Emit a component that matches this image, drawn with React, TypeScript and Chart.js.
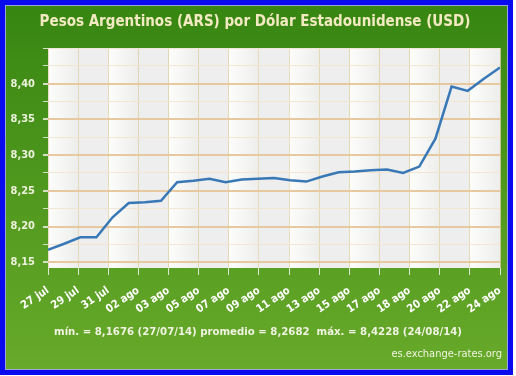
import React, { useEffect, useRef } from 'react';
import { Chart, registerables } from 'chart.js';

Chart.register(...registerables);

const chartTitle = 'Pesos Argentinos (ARS) por Dólar Estadounidense (USD)';
const statsText = 'mín. = 8,1676 (27/07/14) promedio = 8,2682  máx. = 8,4228 (24/08/14)';
const sourceText = 'es.exchange-rates.org';

const xTickLabels = ['27 jul', '29 jul', '31 jul', '02 ago', '03 ago', '05 ago', '07 ago', '09 ago', '11 ago', '13 ago', '15 ago', '17 ago', '18 ago', '20 ago', '22 ago', '24 ago'];

const dates = ['27/07/14', '28/07/14', '29/07/14', '30/07/14', '31/07/14', '01/08/14', '02/08/14', '03/08/14', '04/08/14', '05/08/14', '06/08/14', '07/08/14', '08/08/14', '09/08/14', '10/08/14', '11/08/14', '12/08/14', '13/08/14', '14/08/14', '15/08/14', '16/08/14', '17/08/14', '18/08/14', '19/08/14', '20/08/14', '21/08/14', '22/08/14', '23/08/14', '24/08/14'];

const rates = [8.1676, 8.176, 8.185, 8.185, 8.213, 8.233, 8.234, 8.236, 8.262, 8.264, 8.267, 8.262, 8.266, 8.267, 8.268, 8.265, 8.263, 8.270, 8.276, 8.277, 8.279, 8.280, 8.275, 8.284, 8.323, 8.396, 8.390, 8.407, 8.4228];

const yMin = 8.142;
const yMax = 8.45;
const yFirstTick = 8.15;
const yTickStep = 0.025;

const FONT = '"DejaVu Sans Condensed", "DejaVu Sans", sans-serif';

const isMajor = (v: number) => Math.round(v * 1000) % 50 === 0;

const framePlugin = {
  id: 'frame',
  beforeDraw(chart: any) {
    const { ctx, width, height, chartArea, scales } = chart;
    ctx.save();
    ctx.fillStyle = '#ffffff';
    ctx.fillRect(0, 0, width, height);
    ctx.fillStyle = '#0a0aee';
    ctx.fillRect(0, 0, width - 3, height - 1);
    const g = ctx.createLinearGradient(0, 6, 0, height - 7);
    g.addColorStop(0, '#378612');
    g.addColorStop(1, '#68aa2a');
    ctx.fillStyle = g;
    ctx.fillRect(6, 6, width - 15, height - 13);
    ctx.strokeStyle = 'rgba(220,230,210,0.7)';
    ctx.lineWidth = 1;
    ctx.strokeRect(5.5, 5.5, width - 14, height - 12);

    // alternating column bands
    const xs = scales.x;
    const n = xTickLabels.length - 1;
    const span = dates.length - 1;
    for (let i = 0; i < n; i++) {
      const x0 = xs.getPixelForValue((i * span) / n);
      const x1 = xs.getPixelForValue(((i + 1) * span) / n);
      if (i % 2 === 0) {
        const bg = ctx.createLinearGradient(x0, 0, x1, 0);
        bg.addColorStop(0, '#fdfdfb');
        bg.addColorStop(1, '#ededec');
        ctx.fillStyle = bg;
      } else {
        ctx.fillStyle = '#eeeeee';
      }
      ctx.fillRect(x0, chartArea.top, x1 - x0, chartArea.bottom - chartArea.top);
    }
    ctx.restore();
  },
  afterDraw(chart: any) {
    const { ctx } = chart;
    ctx.save();
    ctx.textBaseline = 'middle';
    ctx.textAlign = 'center';
    ctx.fillStyle = '#f4eac2';
    ctx.font = 'bold 15px ' + FONT;
    ctx.fillText(chartTitle, 255, 22);
    ctx.fillStyle = '#f0f2e2';
    ctx.font = 'bold 11.3px ' + FONT;
    ctx.fillText(statsText, 258, 332);
    ctx.textAlign = 'right';
    ctx.font = '11px ' + FONT;
    ctx.fillText(sourceText, 502, 354);
    ctx.restore();
  },
};

export default function App() {
  const ref = useRef<HTMLCanvasElement>(null);
  useEffect(() => {
    if (!ref.current) return;
    const span = dates.length - 1;
    const n = xTickLabels.length - 1;
    const chart = new Chart(ref.current, {
      type: 'line',
      data: {
        datasets: [
          {
            label: 'ARS/USD',
            data: rates.map((v, i) => ({ x: i, y: v })),
            borderColor: '#3878b6',
            borderWidth: 2.5,
            pointRadius: 0,
            tension: 0,
            fill: false,
          },
        ],
      },
      options: {
        responsive: false,
        animation: false,
        events: [],
        layout: { padding: { left: 6, right: 16, top: 48, bottom: 0 } },
        plugins: { legend: { display: false }, tooltip: { enabled: false }, title: { display: false } },
        scales: {
          x: {
            type: 'linear',
            min: 0,
            max: span,
            afterBuildTicks: (scale: any) => {
              scale.ticks = xTickLabels.map((_, i) => ({ value: (i * span) / n }));
            },
            afterFit: (scale: any) => {
              scale.height = 108;
              scale.paddingLeft = 0;
              scale.paddingRight = 0;
            },
            border: { display: false },
            grid: {
              color: 'rgba(232,212,176,0.75)',
              lineWidth: 1,
              drawTicks: true,
              tickLength: 7,
              tickColor: '#dfe6d6',
            },
            ticks: {
              autoSkip: false,
              minRotation: 34,
              maxRotation: 34,
              padding: 9,
              color: '#ffffff',
              font: { family: FONT, size: 11, weight: 'bold' },
              callback: (_v: any, i: number) => xTickLabels[i],
            },
          },
          y: {
            min: yMin,
            max: yMax,
            afterBuildTicks: (scale: any) => {
              const t = [];
              for (let v = yFirstTick; v <= yMax + 1e-9; v += yTickStep) t.push({ value: Math.round(v * 1000) / 1000 });
              scale.ticks = t;
            },
            afterFit: (scale: any) => {
              scale.width = 42;
              scale.paddingTop = 0;
              scale.paddingBottom = 0;
            },
            border: { display: false },
            grid: {
              color: (c: any) => {
                const v = c.tick ? c.tick.value : 0;
                if (v >= yMax - 1e-6) return '#efe6d6';
                return isMajor(v) ? '#e8c89e' : '#f2e5d2';
              },
              lineWidth: (c: any) => {
                const v = c.tick ? c.tick.value : 0;
                if (v >= yMax - 1e-6) return 1;
                return isMajor(v) ? 2 : 1;
              },
              tickLength: 5,
              tickColor: '#d4dfc6',
            },
            ticks: {
              padding: 8,
              color: '#eef2dc',
              font: { family: FONT, size: 11, weight: 'bold' },
              callback: (v: any) => (isMajor(Number(v)) && Number(v) < yMax - 1e-6 ? Number(v).toFixed(2).replace('.', ',') : ''),
            },
          },
        },
      },
      plugins: [framePlugin],
    } as any);
    return () => chart.destroy();
  }, []);
  return (
    <div style={{ position: 'fixed', left: 0, top: 0, width: 516, height: 376 }}>
      <canvas ref={ref} width={516} height={376} style={{ width: 516, height: 376, display: 'block' }} />
    </div>
  );
}
